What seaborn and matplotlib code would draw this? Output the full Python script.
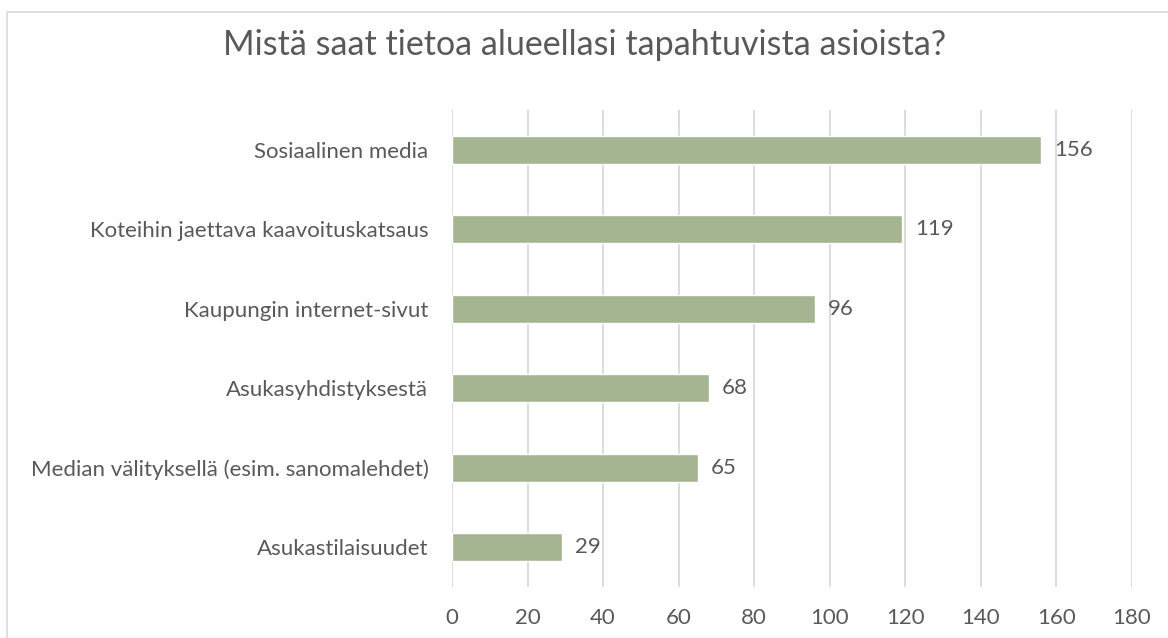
import matplotlib
matplotlib.use("Agg")
import matplotlib.pyplot as plt
import seaborn as sns
import pandas as pd
from matplotlib.patches import Rectangle

categories = ["Sosiaalinen media", "Koteihin jaettava kaavoituskatsaus", "Kaupungin internet-sivut",
              "Asukasyhdistyksestä", "Median välityksellä (esim. sanomalehdet)", "Asukastilaisuudet"]
values = [156, 119, 96, 68, 65, 29]
ticks = [0, 20, 40, 60, 80, 100, 120, 140, 160, 180]
title = "Mistä saat tietoa alueellasi tapahtuvista asioista?"

sns.set_theme(style="white")
plt.rcParams['font.family'] = ['Lato', 'DejaVu Sans']
txt = "#595959"

df = pd.DataFrame({"cat": categories, "val": values})
fig = plt.figure(figsize=(11.68, 6.38), dpi=100)
ax = fig.add_axes([452/1168, 1-587/638, 680/1168, 477/638])
sns.barplot(data=df, y="cat", x="val", color="#A5B592", width=0.35, ax=ax, saturation=1, orient="h")
ax.set_xlim(0, 180)
ax.set_ylim(5.5, -0.5)
ax.set_xticks(ticks)
ax.grid(axis="x", color="#D9D9D9", linewidth=1.3)
ax.set_axisbelow(True)
for s in ax.spines.values():
    s.set_visible(False)
ax.set_xlabel("")
ax.set_ylabel("")
ax.tick_params(axis="both", length=0, labelsize=16, colors=txt)
ax.tick_params(axis="y", pad=17)
ax.tick_params(axis="x", pad=15)
for i, v in enumerate(values):
    ax.text(v + 3.5, i, str(v), va="center", ha="left", fontsize=16, color=txt)
fig.text(585/1168, 1-45/638, title, ha="center", va="center", fontsize=24.5, color=txt)
fig.patches.append(Rectangle((7/1168, -0.1), 1.2, 1-12/638+0.1, transform=fig.transFigure,
                             fill=False, edgecolor="#D9D9D9", linewidth=1.2))
fig.savefig("out.png", dpi=100)
